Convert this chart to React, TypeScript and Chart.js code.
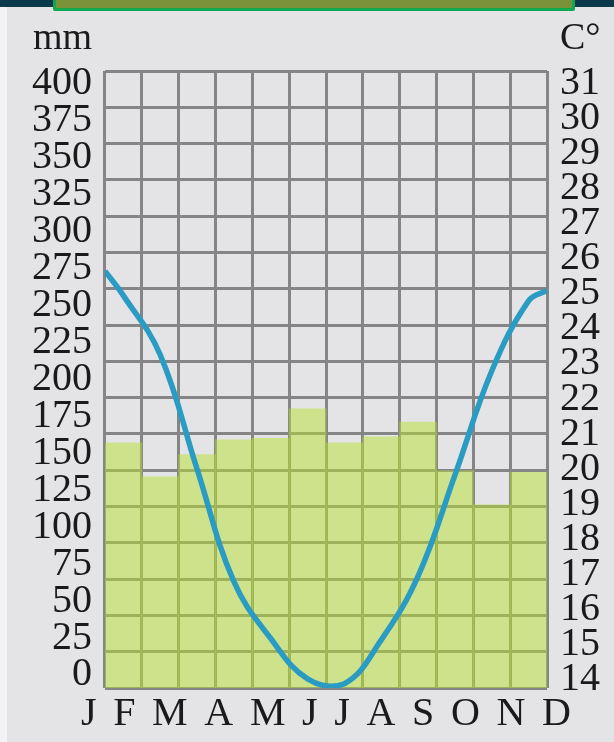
import React, { useEffect, useRef } from 'react';
import { Chart, registerables } from 'chart.js';

Chart.register(...registerables);

// ---- data ----
const months = ['J', 'F', 'M', 'A', 'M', 'J', 'J', 'A', 'S', 'O', 'N', 'D'];
const rainfallMm = [157, 134, 149, 159, 160, 180, 157, 161, 171, 138, 115, 137];
// temperature curve: month position (0 = start of Jan, 12 = end of Dec) and value in °C
const tempMonthPos = [0, 0.5, 1.5, 2.5, 3.5, 4.5, 5.5, 6.5, 7.5, 8.5, 9.5, 10.5, 11.5, 12];
const temperatureC = [25.65, 24.95, 23.26, 20.0, 16.79, 15.17, 14.02, 13.88, 15.13, 16.95, 19.83, 22.8, 24.8, 25.1];
const mmTicks = [0, 25, 50, 75, 100, 125, 150, 175, 200, 225, 250, 275, 300, 325, 350, 375, 400];
const tempTicks = [14, 15, 16, 17, 18, 19, 20, 21, 22, 23, 24, 25, 26, 27, 28, 29, 30, 31];
const mmUnit = 'mm';
const tempUnit = 'C°';

// ---- style constants ----
const FONT = '"Liberation Serif", "Times New Roman", serif';
const TEXT = '#1a1a1a';
const GRID = '#858585';
const BG = '#e4e4e6';
const MM_MIN = -8.8;
const MM_MAX = 408.3;
const MM_UNIT_AT = 430; // where the unit caption sits on the mm axis
const T_MIN = 13.758;
const T_MAX = 31.357;
const T_UNIT_AT = 32.27; // where the unit caption sits on the °C axis
const MONTH_GAP = ' \u2006';

export default function App() {
  const canvasRef = useRef<HTMLCanvasElement | null>(null);

  useEffect(() => {
    const canvas = canvasRef.current;
    if (!canvas) return;
    const tickFont = { family: FONT, size: 40, lineHeight: 1 };
    const unitFont = { family: FONT, size: 38, lineHeight: 1 };
    const chart = new Chart(canvas, {
      type: 'bar',
      data: {
        labels: months,
        datasets: [
          {
            type: 'line',
            label: 'Temperature',
            data: tempMonthPos.map((x, i) => ({ x, y: temperatureC[i] })),
            xAxisID: 'xT',
            yAxisID: 'yT',
            borderColor: '#2a9cc4',
            borderWidth: 5.5,
            pointRadius: 0,
            tension: 0.4,
            fill: false,
            order: 1,
          } as any,
          {
            type: 'bar',
            label: 'Rainfall',
            data: rainfallMm,
            xAxisID: 'x',
            yAxisID: 'y',
            base: MM_MIN,
            grouped: false,
            backgroundColor: 'rgba(184, 223, 50, 0.5)',
            borderWidth: 0,
            barPercentage: 1,
            categoryPercentage: 1,
            order: 2,
          } as any,
        ],
      },
      options: {
        responsive: false,
        animation: false,
        events: [],
        layout: { padding: { left: 20, right: -18, top: 71, bottom: 0 } },
        plugins: {
          legend: { display: false },
          tooltip: { enabled: false },
          title: {
            display: true,
            position: 'bottom',
            text: months.join(MONTH_GAP),
            color: TEXT,
            font: { family: FONT, size: 40, lineHeight: 1, weight: 'normal' },
            padding: { top: 6.5, bottom: 7.5 },
          },
        },
        scales: {
          x: {
            type: 'category',
            offset: true,
            grid: { offset: true, color: GRID, lineWidth: 3, drawTicks: false },
            border: { display: false },
            ticks: { display: false },
          },
          xT: { type: 'linear', min: 0, max: 12, offset: false, display: false },
          yGrid: {
            type: 'linear',
            position: 'left',
            min: 0,
            max: 17,
            ticks: { display: false, stepSize: 1 },
            grid: { color: GRID, lineWidth: 3, drawTicks: false },
            border: { display: false },
          },
          y: {
            type: 'linear',
            position: 'left',
            min: MM_MIN,
            max: MM_MAX,
            grid: { display: false, drawTicks: false },
            border: { display: false },
            ticks: {
              autoSkip: false,
              padding: 13,
              color: TEXT,
              font: (c: any) => (c.tick && c.tick.value === MM_UNIT_AT ? unitFont : tickFont),
              callback: (v: any) => (v === MM_UNIT_AT ? mmUnit : String(v)),
            },
            afterBuildTicks: (s: any) => {
              s.ticks = [...mmTicks, MM_UNIT_AT].map((v) => ({ value: v }));
            },
            afterFit: (s: any) => {
              s.width = 85;
            },
          },
          yT: {
            type: 'linear',
            position: 'right',
            min: T_MIN,
            max: T_MAX,
            grid: { display: false, drawTicks: false },
            border: { display: false },
            ticks: {
              autoSkip: false,
              padding: 13,
              color: TEXT,
              font: (c: any) => (c.tick && c.tick.value === T_UNIT_AT ? unitFont : tickFont),
              callback: (v: any) => (v === T_UNIT_AT ? tempUnit : String(v)),
            },
            afterBuildTicks: (s: any) => {
              s.ticks = [...tempTicks, T_UNIT_AT].map((v) => ({ value: v }));
            },
            afterFit: (s: any) => {
              s.width = 85;
            },
          },
        },
      } as any,
    });
    return () => chart.destroy();
  }, []);

  return (
    <div style={{ position: 'absolute', left: 0, top: 0, width: 614, height: 742, background: BG, overflow: 'hidden' }}>
      <div style={{ position: 'absolute', left: 0, top: 0, width: 614, height: 7, background: '#0c3a4c' }} />
      <div
        style={{
          position: 'absolute',
          left: 53,
          top: -3,
          width: 522,
          height: 14,
          boxSizing: 'border-box',
          background: '#7a9238',
          border: '3px solid #10a84e',
          borderRadius: 2,
        }}
      />
      <div style={{ position: 'absolute', left: 0, top: 7, width: 7, height: 735, background: '#f3f3f4' }} />
      <canvas ref={canvasRef} width={614} height={742} style={{ position: 'absolute', left: 0, top: 0 }} />
    </div>
  );
}
